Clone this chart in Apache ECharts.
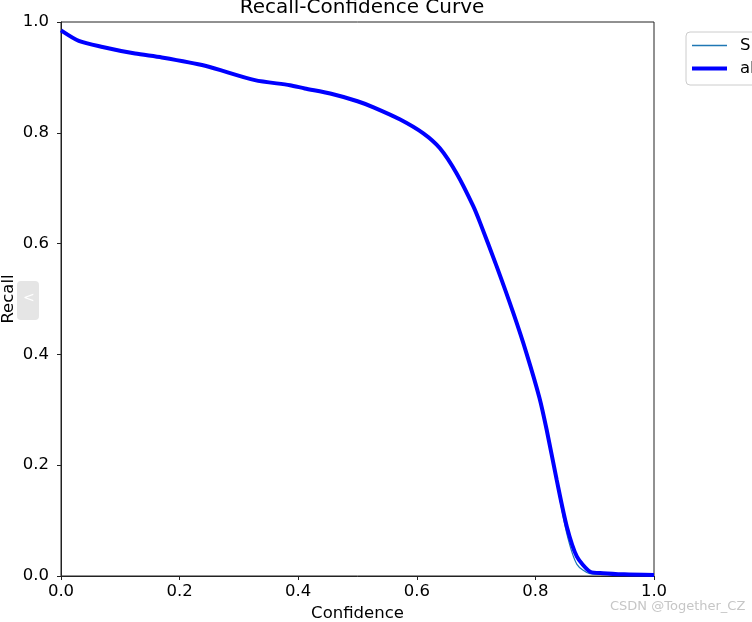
<!DOCTYPE html>
<html>
<head>
<meta charset="utf-8">
<script src="https://cdn.jsdelivr.net/npm/echarts@6/dist/echarts.min.js"></script>
<style>
html,body{margin:0;padding:0;background:#fff;}
#chart{width:752px;height:622px;}
</style>
</head>
<body>
<div id="chart"></div>
<script>
// Confidence thresholds (x) and recall values
const confidence = [0, 0.03, 0.07, 0.125, 0.17, 0.243, 0.327, 0.386, 0.411, 0.454, 0.5, 0.527, 0.572, 0.611, 0.639, 0.667, 0.695, 0.707, 0.735, 0.763, 0.785, 0.807, 0.819, 0.836, 0.853, 0.870, 0.892, 0.914, 0.95, 1.0];
const recallAll = [0.985, 0.966, 0.955, 0.943, 0.936, 0.921, 0.895, 0.886, 0.880, 0.871, 0.857, 0.846, 0.824, 0.799, 0.772, 0.727, 0.668, 0.637, 0.558, 0.474, 0.402, 0.321, 0.264, 0.173, 0.089, 0.035, 0.008, 0.005, 0.003, 0.002];
const recallClass = [0.985, 0.966, 0.955, 0.943, 0.936, 0.921, 0.895, 0.886, 0.880, 0.871, 0.857, 0.846, 0.824, 0.799, 0.772, 0.727, 0.668, 0.637, 0.558, 0.474, 0.402, 0.321, 0.262, 0.168, 0.076, 0.021, 0.004, 0.003, 0.003, 0.002];
const seriesNames = ['Smoke', 'all classes 0.98 at 0.000'];
const xTicks = [0, 0.2, 0.4, 0.6, 0.8, 1.0];
const yTicks = [0, 0.2, 0.4, 0.6, 0.8, 1.0];

const FONT = 'DejaVu Sans';
const chart = echarts.init(document.getElementById('chart'), null, {renderer: 'canvas'});
const pairs = (xs, ys) => xs.map((x, i) => [x, ys[i]]);

chart.setOption({
  animation: false,
  backgroundColor: '#fff',
  textStyle: {fontFamily: FONT, color: '#000'},
  title: {
    text: 'Recall-Confidence Curve',
    left: 357, top: -7, textAlign: 'center',
    textStyle: {fontFamily: FONT, fontSize: 20, fontWeight: 'normal', color: '#000'}
  },
  legend: {
    orient: 'vertical',
    left: 686, top: 32,
    padding: [5, 6, 8, 6],
    itemGap: 6,
    itemWidth: 35, itemHeight: 14,
    symbolKeepAspect: true,
    borderColor: '#cccccc', borderWidth: 1, borderRadius: 4,
    backgroundColor: '#fff',
    textStyle: {fontFamily: FONT, fontSize: 16.5, lineHeight: 14, color: '#000', padding: [0, 0, 0, 8]},
    data: [
      {name: seriesNames[0], icon: 'path://M0,0H35V1.5H0Z'},
      {name: seriesNames[1], icon: 'path://M0,0H35V4H0Z'}
    ]
  },
  grid: {left: 61, top: 22, width: 593, height: 554, outerBoundsMode: 'none', containLabel: false,
         show: true, borderColor: '#222', borderWidth: 1, backgroundColor: 'transparent'},
  xAxis: {
    type: 'value', min: xTicks[0], max: xTicks[xTicks.length - 1], interval: 0.2,
    name: 'Confidence', nameLocation: 'middle', nameGap: 29, nameMoveOverlap: false,
    nameTextStyle: {fontFamily: FONT, fontSize: 16.5, color: '#000', verticalAlign: 'top'},
    axisLine: {show: true, onZero: false, lineStyle: {color: '#222', width: 1}},
    axisTick: {show: true, inside: false, length: 4, lineStyle: {color: '#222'}},
    axisLabel: {fontFamily: FONT, fontSize: 16.5, color: '#000', margin: 7, formatter: v => v.toFixed(1)},
    splitLine: {show: false}
  },
  yAxis: {
    type: 'value', min: yTicks[0], max: yTicks[yTicks.length - 1], interval: 0.2,
    name: 'Recall', nameLocation: 'middle', nameGap: 44, nameRotate: 90, nameMoveOverlap: false,
    nameTextStyle: {fontFamily: FONT, fontSize: 16.5, color: '#000'},
    axisLine: {show: true, onZero: false, lineStyle: {color: '#222', width: 1}},
    axisTick: {show: true, inside: false, length: 4, lineStyle: {color: '#222'}},
    axisLabel: {fontFamily: FONT, fontSize: 16.5, color: '#000', margin: 12, formatter: v => v.toFixed(1)},
    splitLine: {show: false}
  },
  series: [
    {
      name: seriesNames[0], type: 'line', data: pairs(confidence, recallClass),
      symbol: 'none', smooth: 0.25,
      lineStyle: {color: '#1f77b4', width: 1.2}, itemStyle: {color: '#1f77b4'}
    },
    {
      name: seriesNames[1], type: 'line', data: pairs(confidence, recallAll),
      symbol: 'none', smooth: 0.25,
      lineStyle: {color: '#0000ff', width: 4}, itemStyle: {color: '#0000ff'}
    }
  ],
  graphic: [
    {
      type: 'rect', left: 17, top: 281, z: 100,
      shape: {width: 22, height: 39, r: 4},
      style: {fill: 'rgba(220,220,220,0.75)'}
    },
    {
      type: 'text', left: 23, top: 291, z: 101,
      style: {text: '<', fontFamily: FONT, fontSize: 14, fill: '#ffffff'}
    },
    {
      type: 'text', left: 610, top: 600, z: 100,
      style: {text: 'CSDN @Together_CZ', fontFamily: FONT, fontSize: 13, fill: '#c6c6c6'}
    }
  ]
});
</script>
</body>
</html>
